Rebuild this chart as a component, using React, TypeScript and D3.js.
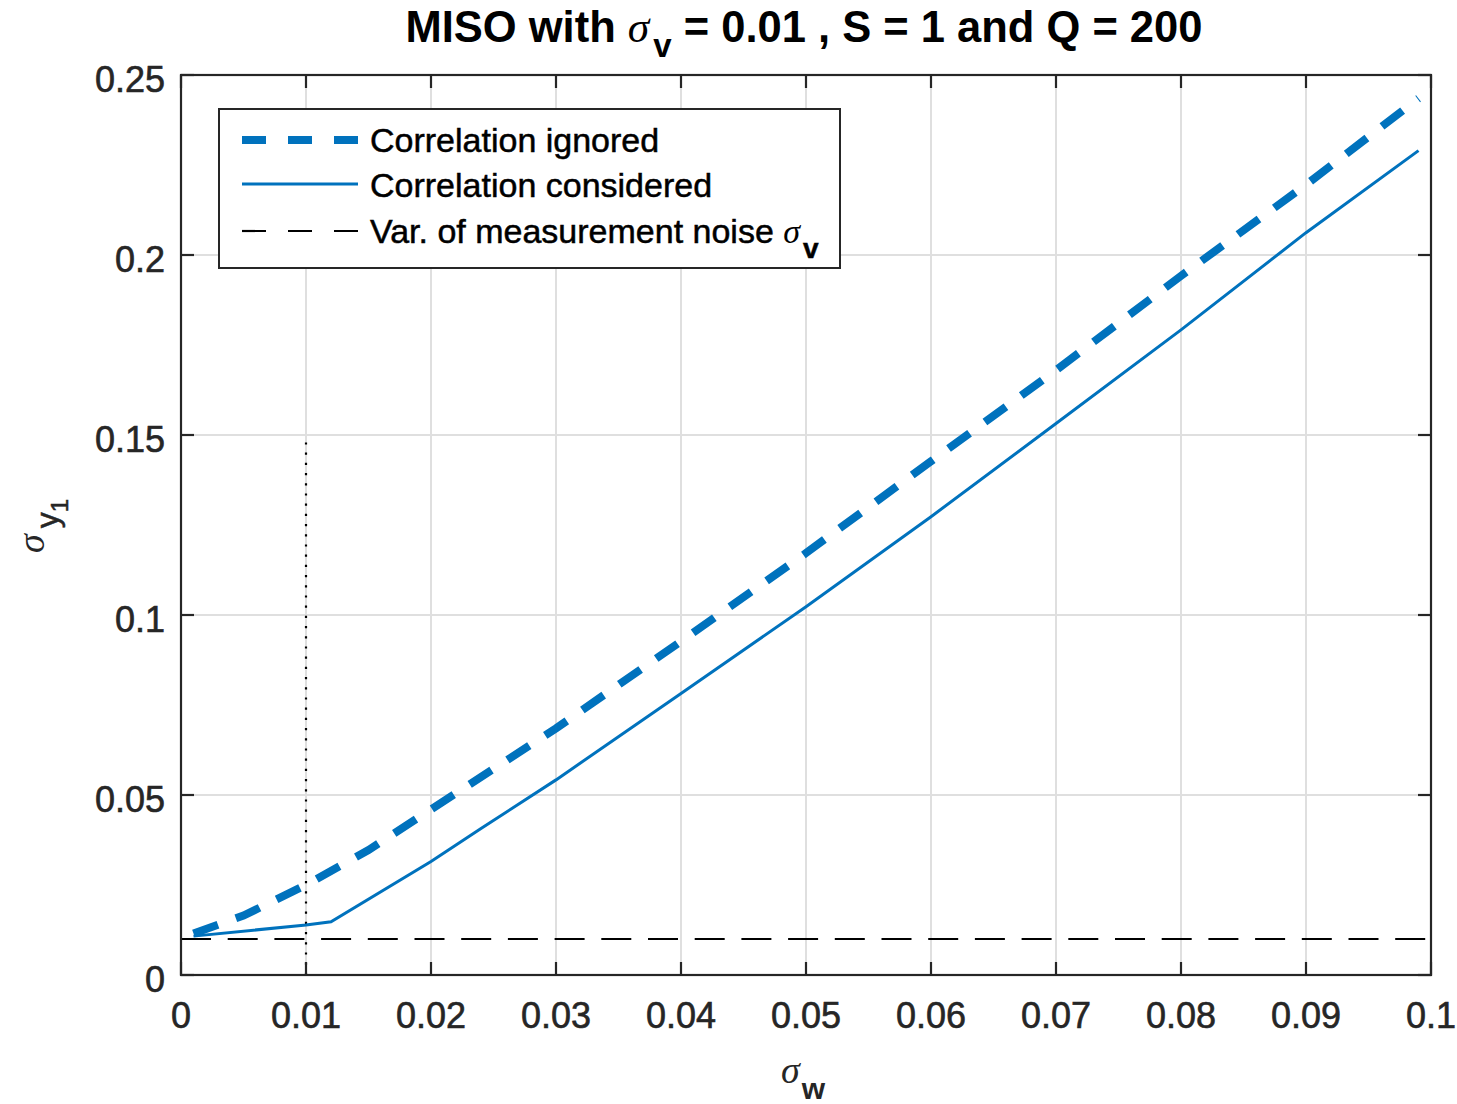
import React from "react";
import * as d3 from "d3";

const xTicks = [0, 0.01, 0.02, 0.03, 0.04, 0.05, 0.06, 0.07, 0.08, 0.09, 0.1];
const xTickLabels = ["0", "0.01", "0.02", "0.03", "0.04", "0.05", "0.06", "0.07", "0.08", "0.09", "0.1"];
const yTicks = [0, 0.05, 0.1, 0.15, 0.2, 0.25];
const yTickLabels = ["0", "0.05", "0.1", "0.15", "0.2", "0.25"];

const ignoredX = [0.001, 0.005, 0.01, 0.015, 0.02, 0.03, 0.04, 0.05, 0.06, 0.07, 0.08, 0.09, 0.099];
const ignoredY = [0.0115, 0.0165, 0.025, 0.0347, 0.046, 0.0685, 0.0927, 0.1172, 0.1427, 0.168, 0.1942, 0.2195, 0.2435];

const consideredX = [0.001, 0.01, 0.012, 0.02, 0.024, 0.03, 0.04, 0.05, 0.06, 0.07, 0.08, 0.09, 0.099];
const consideredY = [0.0108, 0.0139, 0.0148, 0.0315, 0.0407, 0.0542, 0.0782, 0.1023, 0.1273, 0.1532, 0.1792, 0.2062, 0.229];

const noiseLevel = 0.01;
const markerX = 0.01;
const markerTop = 0.149;

const legendLabels = ["Correlation ignored", "Correlation considered", "Var. of measurement noise "];

const W = 1457, H = 1104;
const L = 181, R = 1431, T = 75, B = 975;
const BLUE = "#0072BD";
const AX = "#262626";
const FONT = "Arial, 'Liberation Sans', Helvetica, sans-serif";
const SIG = "'Liberation Serif', 'Times New Roman', serif";

export default function App() {
  const x = d3.scaleLinear().domain([0, 0.1]).range([L, R]);
  const y = d3.scaleLinear().domain([0, 0.25]).range([B, T]);
  const line = d3.line<[number, number]>().x(d => x(d[0])).y(d => y(d[1]));
  const ign = line(ignoredX.map((v, i) => [v, ignoredY[i]] as [number, number]))!;
  const con = line(consideredX.map((v, i) => [v, consideredY[i]] as [number, number]))!;
  const tickLen = 13;

  return (
    <svg width={W} height={H} style={{ position: "absolute", left: 0, top: 0, background: "#fff" }}>
      <rect x={0} y={0} width={W} height={H} fill="#fff" />
      {/* grid */}
      {xTicks.slice(1, -1).map((t, i) => (
        <line key={"gx" + i} x1={x(t)} x2={x(t)} y1={T} y2={B} stroke="#dfdfdf" strokeWidth={2} />
      ))}
      {yTicks.slice(1, -1).map((t, i) => (
        <line key={"gy" + i} x1={L} x2={R} y1={y(t)} y2={y(t)} stroke="#dfdfdf" strokeWidth={2} />
      ))}
      {/* data */}
      <line x1={x(0)} x2={x(0.1)} y1={y(noiseLevel)} y2={y(noiseLevel)} stroke="#000" strokeWidth={2.2} strokeDasharray="30 16.7" />
      <line x1={x(markerX)} x2={x(markerX)} y1={y(0)} y2={y(markerTop)} stroke="#000" strokeWidth={2.2} strokeDasharray="2.2 8" />
      <path d={con} fill="none" stroke={BLUE} strokeWidth={3} />
      <path d={ign} fill="none" stroke={BLUE} strokeWidth={8} strokeDasharray="26 19" />
      {/* axes box */}
      <rect x={L} y={T} width={R - L} height={B - T} fill="none" stroke={AX} strokeWidth={2.2} />
      {xTicks.map((t, i) => (
        <g key={"xt" + i}>
          <line x1={x(t)} x2={x(t)} y1={B} y2={B - tickLen} stroke={AX} strokeWidth={2.2} />
          <line x1={x(t)} x2={x(t)} y1={T} y2={T + tickLen} stroke={AX} strokeWidth={2.2} />
          <text x={x(t)} y={1028} textAnchor="middle" fontFamily={FONT} fontSize={36} fill={AX} stroke={AX} strokeWidth={0.6}>{xTickLabels[i]}</text>
        </g>
      ))}
      {yTicks.map((t, i) => (
        <g key={"yt" + i}>
          <line x1={L} x2={L + tickLen} y1={y(t)} y2={y(t)} stroke={AX} strokeWidth={2.2} />
          <line x1={R} x2={R - tickLen} y1={y(t)} y2={y(t)} stroke={AX} strokeWidth={2.2} />
          <text x={165} y={y(t) + 17} textAnchor="end" fontFamily={FONT} fontSize={36} fill={AX} stroke={AX} strokeWidth={0.6}>{yTickLabels[i]}</text>
        </g>
      ))}
      {/* title */}
      <text x={804} y={42} textAnchor="middle" fontFamily={FONT} fontSize={43.5} fontWeight="bold" fill="#000">
        <tspan>MISO with </tspan>
        <tspan fontFamily={SIG} fontStyle="italic" fontWeight="normal">σ</tspan>
        <tspan dx={4} dy={15} fontSize={33}>v</tspan>
        <tspan dy={-15}> = 0.01 , S = 1 and Q = 200</tspan>
      </text>
      {/* x label */}
      <text x={781} y={1083} fontFamily={FONT} fontSize={38} fill={AX}>
        <tspan fontFamily={SIG} fontStyle="italic">σ</tspan>
        <tspan dx={2} dy={16} fontSize={30} fontWeight="bold">w</tspan>
      </text>
      {/* y label */}
      <text transform="translate(44,553) rotate(-90)" fontFamily={FONT} fontSize={38} fill={AX}>
        <tspan fontFamily={SIG} fontStyle="italic">σ</tspan>
        <tspan dx={6} dy={14} fontSize={32} stroke={AX} strokeWidth={0.5}>y</tspan>
        <tspan dy={10} fontSize={24} stroke={AX} strokeWidth={0.5}>1</tspan>
      </text>
      {/* legend */}
      <rect x={219} y={109} width={621} height={159} fill="#fff" stroke={AX} strokeWidth={2} />
      <line x1={242} x2={358} y1={140} y2={140} stroke={BLUE} strokeWidth={8} strokeDasharray="24 22" />
      <line x1={242} x2={358} y1={184} y2={184} stroke={BLUE} strokeWidth={3} />
      <line x1={242} x2={358} y1={231} y2={231} stroke="#000" strokeWidth={2.2} strokeDasharray="24 22" />
      <text x={370} y={152} fontFamily={FONT} fontSize={34} fill="#000" stroke="#000" strokeWidth={0.5}>{legendLabels[0]}</text>
      <text x={370} y={197} fontFamily={FONT} fontSize={34} fill="#000" stroke="#000" strokeWidth={0.5}>{legendLabels[1]}</text>
      <text x={370} y={243} fontFamily={FONT} fontSize={34} fill="#000" stroke="#000" strokeWidth={0.5}>
        <tspan>{legendLabels[2]}</tspan>
        <tspan fontFamily={SIG} fontStyle="italic" strokeWidth={0}>σ</tspan>
        <tspan dx={3} dy={15} fontSize={28} fontWeight="bold">v</tspan>
      </text>
    </svg>
  );
}
